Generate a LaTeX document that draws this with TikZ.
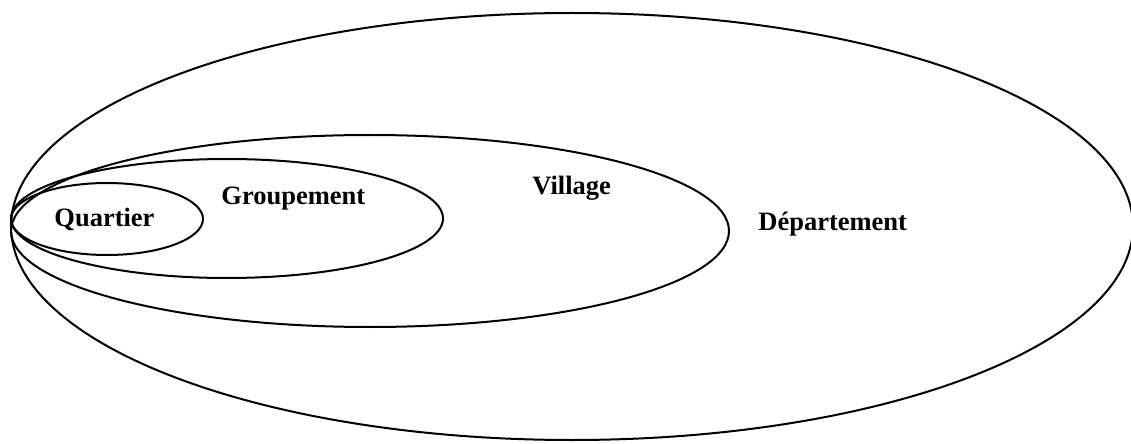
\documentclass[tikz,border=0pt]{standalone}
\usepackage{fontspec}
\setmainfont{Liberation Serif}
\usetikzlibrary{shapes.geometric}
\begin{document}
\begin{tikzpicture}[x=0.5pt,y=-0.5pt,
  zone/.style={draw=black, line width=1pt, ellipse, inner sep=0pt, outer sep=0pt},
  lbl/.style={anchor=base west, inner sep=0pt, font=\fontsize{13.25pt}{15pt}\selectfont\bfseries}]
\useasboundingbox (0,0) rectangle (1131,444);
\fill[white] (0,0) rectangle (1131,444);
\node[zone, minimum width=561pt, minimum height=213.5pt] (dep) at (572,226.5) {};
\node[zone, minimum width=359pt, minimum height=96pt] (vil) at (370,231) {};
\node[zone, minimum width=216pt, minimum height=59.5pt] (grp) at (227,218.5) {};
\node[zone, minimum width=96pt, minimum height=36pt] (qua) at (107,219) {};
\node[lbl] (tq) at (54,227) {Quartier};
\node[lbl] (tg) at (221,205) {Groupement};
\node[lbl] (tv) at (532,195) {Village};
\node[lbl] (td) at (758,230) {Département};
\end{tikzpicture}
\end{document}
